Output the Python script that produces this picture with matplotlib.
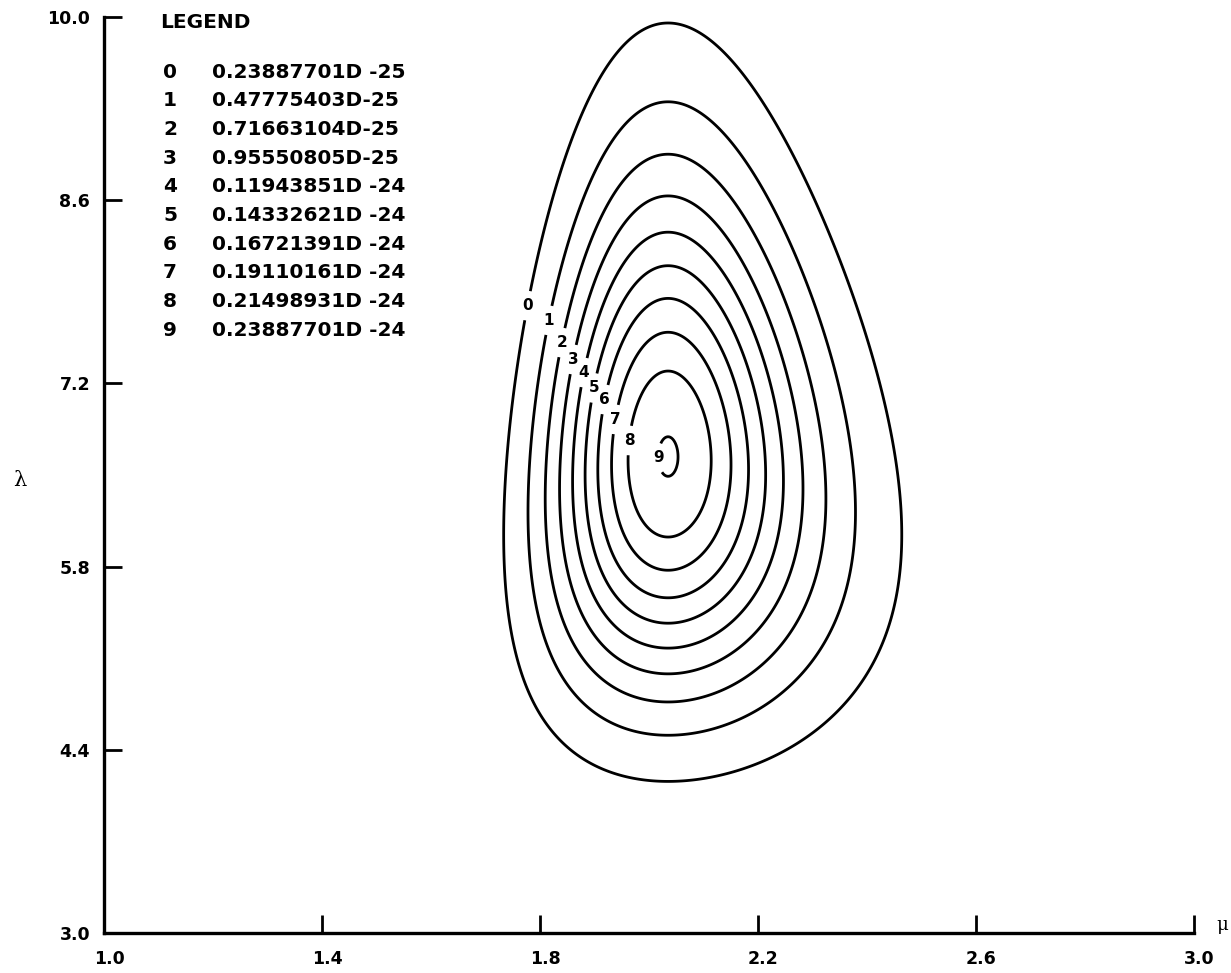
import numpy as np
import matplotlib
matplotlib.use("Agg")
import matplotlib.pyplot as plt
from matplotlib.transforms import ScaledTranslation

# ---- data ----
mu_ticks = [1.0, 1.4, 1.8, 2.2, 2.6, 3.0]
lambda_ticks = [3.0, 4.4, 5.8, 7.2, 8.6, 10.0]
mu_tick_labels = ["1.0", "1.4", "1.8", "2.2", "2.6", "3.0"]
lambda_tick_labels = ["3.0", "4.4", "5.8", "7.2", "8.6", "10.0"]

contour_ids = ["0", "1", "2", "3", "4", "5", "6", "7", "8", "9"]
contour_levels = [0.23887701e-25, 0.47775403e-25, 0.71663104e-25, 0.95550805e-25,
                  0.11943851e-24, 0.14332621e-24, 0.16721391e-24, 0.19110161e-24,
                  0.21498931e-24, 0.23887701e-24]
legend_values = ["0.23887701D -25", "0.47775403D-25", "0.71663104D-25",
                 "0.95550805D-25", "0.11943851D -24", "0.14332621D -24",
                 "0.16721391D -24", "0.19110161D -24", "0.21498931D -24",
                 "0.23887701D -24"]

# inverse Gaussian likelihood surface (sufficient statistics)
sample_size = 49
sample_mean = 2.035
lambda_mle = 6.64
max_likelihood = 0.2404e-24

# approximate label anchor points (mu, lambda) on each contour
label_mu = [1.782, 1.818, 1.842, 1.864, 1.884, 1.905, 1.927, 1.945, 1.972, 2.017]
label_lambda = [7.79, 7.68, 7.51, 7.38, 7.28, 7.16, 7.07, 6.92, 6.76, 6.63]

# ---- figure ----
W, H, DPI = 1231, 973, 100
fig = plt.figure(figsize=(W / DPI, H / DPI), dpi=DPI)
x0, x1, y0, y1 = 104, 1194, 933, 17
ax = fig.add_axes([x0 / W, 1 - y0 / H, (x1 - x0) / W, (y0 - y1) / H])
ax.set_xlim(1.0, 3.0)
ax.set_ylim(3.0, 10.0)

mu = np.linspace(1.0, 3.0, 900)
lam = np.linspace(3.0, 10.5, 1100)
MU, LAM = np.meshgrid(mu, lam)
u = 1.0 / MU - 1.0 / sample_mean
k = sample_size / 2.0
r = LAM / lambda_mle
Z = max_likelihood * np.exp(k * (np.log(r) + 1.0 - r - LAM * sample_mean * u ** 2))

cs = ax.contour(MU, LAM, Z, levels=contour_levels, colors="black", linewidths=2.0)
fmt = {lev: cid for lev, cid in zip(contour_levels, contour_ids)}
labels = cs.clabel(contour_levels, inline=True, inline_spacing=10, fmt=fmt,
                   manual=list(zip(label_mu, label_lambda)), fontsize=11)
for t in labels:
    t.set_fontweight("bold")
    t.set_rotation(0)

for s in ["top", "right"]:
    ax.spines[s].set_visible(False)
for s in ["left", "bottom"]:
    ax.spines[s].set_linewidth(2.4)

ax.set_xticks(mu_ticks)
ax.set_xticklabels(mu_tick_labels)
ax.set_yticks(lambda_ticks)
ax.set_yticklabels(lambda_tick_labels)
ax.tick_params(direction="in", length=13, width=2.0)
ax.tick_params(axis="x", pad=12, labelsize=12.5)
ax.tick_params(axis="y", pad=10, labelsize=12.5)
ax.tick_params(axis="x", which="both", top=False)
ax.tick_params(axis="y", which="both", right=False)
for lab in ax.get_xticklabels() + ax.get_yticklabels():
    lab.set_fontweight("bold")
for lab in ax.get_xticklabels():
    lab.set_transform(lab.get_transform() + ScaledTranslation(5 / DPI, 0, fig.dpi_scale_trans))

# axis labels
fig.text(20 / W, 1 - 480 / H, "λ", fontsize=15, family="DejaVu Serif", ha="center", va="center")
fig.text(1222 / W, 1 - 925 / H, "μ", fontsize=13, family="DejaVu Serif", ha="center", va="center")

# legend
fig.text(160 / W, 1 - 23 / H, "LEGEND", fontsize=14.5, fontweight="bold", ha="left", va="center")
row_y0, row_dy = 72, 28.7
for i, (cid, val) in enumerate(zip(contour_ids, legend_values)):
    yy = 1 - (row_y0 + i * row_dy) / H
    fig.text(163 / W, yy, cid, fontsize=14.5, fontweight="bold", ha="left", va="center")
    fig.text(212 / W, yy, val, fontsize=14.5, fontweight="bold", ha="left", va="center")

fig.savefig("out.png", dpi=DPI)
